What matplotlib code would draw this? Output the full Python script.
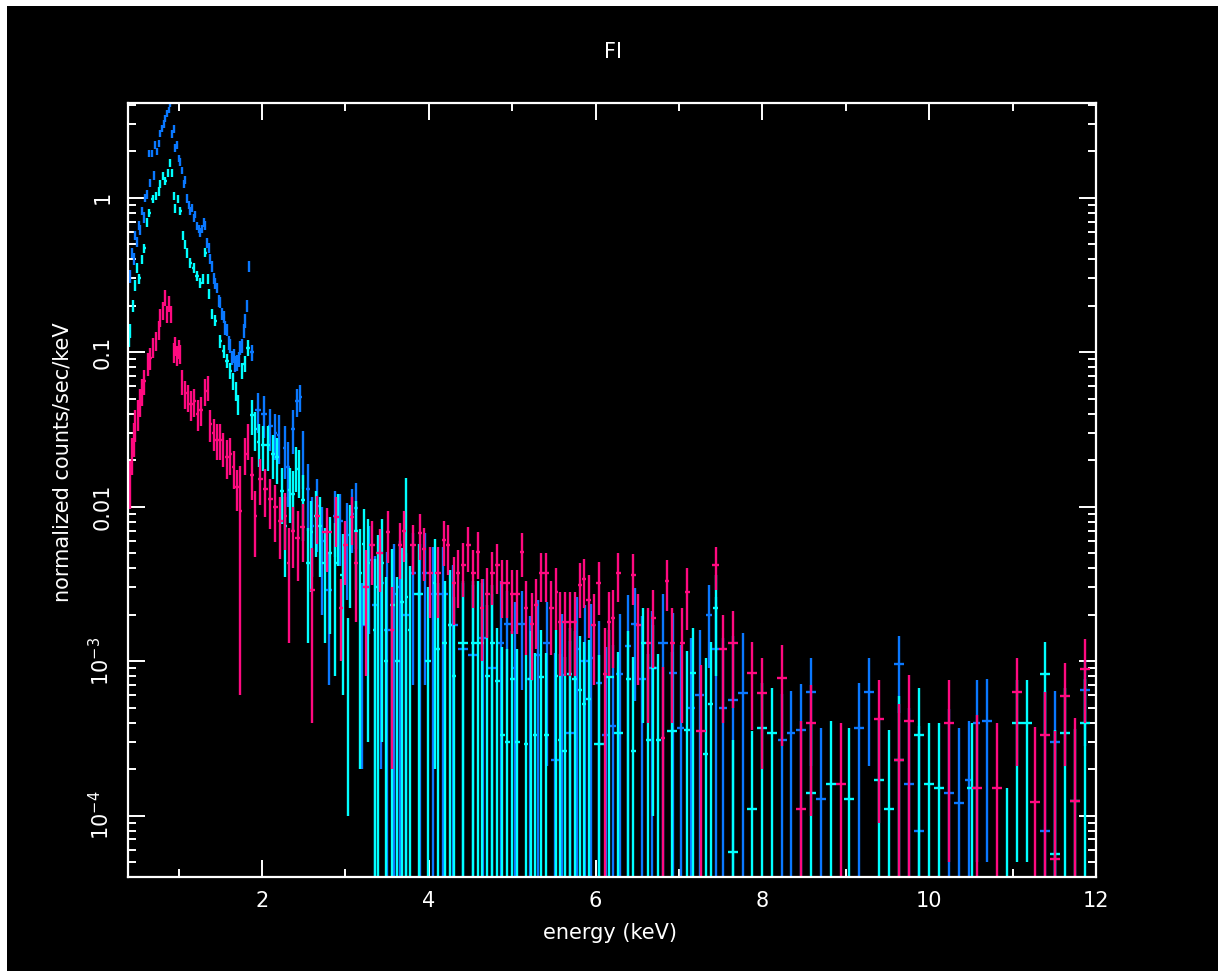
import numpy as np
import matplotlib
matplotlib.use("Agg")
import matplotlib.pyplot as plt
from matplotlib.ticker import FixedLocator, LogLocator, MultipleLocator, NullFormatter

# ---- data: energy (keV), value (counts/s/keV), 1-sigma error ----
blue_e = [0.42, 0.44, 0.46, 0.48, 0.50, 0.52, 0.54, 0.56, 0.58, 0.60, 0.62, 0.64, 0.66, 0.68, 0.70,
          0.72, 0.74, 0.76, 0.78, 0.80, 0.82, 0.84, 0.86, 0.88, 0.90, 0.92, 0.94, 0.96, 0.98, 1.00,
          1.02, 1.04, 1.06, 1.08, 1.10, 1.12, 1.14, 1.16, 1.18, 1.20, 1.22, 1.24, 1.26, 1.28, 1.30,
          1.32, 1.34, 1.36, 1.38, 1.40, 1.42, 1.44, 1.46, 1.48, 1.50, 1.52, 1.54, 1.56, 1.58, 1.60,
          1.62, 1.64, 1.66, 1.68, 1.70, 1.72, 1.74, 1.76, 1.78, 1.80, 1.82, 1.84, 1.88,
          1.95, 2.02, 2.10, 2.16, 2.20, 2.27, 2.31, 2.37, 2.42, 2.46, 2.49, 2.55, 2.60, 2.66, 2.72,
          2.80, 2.88, 2.94, 3.02, 3.08, 3.13, 3.20, 3.28, 3.35, 3.43, 3.50, 3.58, 3.65, 3.73, 3.81,
          3.89, 3.95, 4.05, 4.17, 4.29, 4.41, 4.53, 4.65, 4.76, 4.86, 4.94, 5.03, 5.12, 5.21, 5.31,
          5.42, 5.51, 5.60, 5.69, 5.78, 5.87, 5.95, 6.04, 6.12, 6.21, 6.29, 6.39, 6.47, 6.56, 6.68,
          6.81, 6.93, 7.02, 7.14, 7.25, 7.36, 7.44, 7.53, 7.65, 7.77, 8.24, 8.34, 8.46, 8.58, 8.70,
          9.16, 9.28, 9.64, 9.76, 9.88, 10.24, 10.36, 10.48, 10.57, 10.69, 11.39, 11.51, 11.87]
blue_v = [0.31, 0.44, 0.40, 0.57, 0.52, 0.66, 0.62, 0.82, 0.75, 1.00, 1.05, 1.93, 1.25, 1.93, 1.40,
          2.20, 2.00, 2.25, 2.60, 2.80, 3.00, 3.25, 3.50, 3.70, 4.05, 2.60, 2.80, 2.10, 2.20, 1.80,
          1.70, 1.50, 1.23, 1.30, 0.99, 0.90, 0.82, 0.86, 0.74, 0.78, 0.66, 0.63, 0.60, 0.63, 0.69,
          0.66, 0.51, 0.47, 0.40, 0.36, 0.30, 0.28, 0.26, 0.215, 0.21, 0.177, 0.17, 0.144, 0.14, 0.115,
          0.11, 0.092, 0.095, 0.084, 0.086, 0.090, 0.107, 0.11, 0.138, 0.16, 0.20, 0.36, 0.10,
          0.042, 0.040, 0.033, 0.030, 0.029, 0.024, 0.018, 0.032, 0.048, 0.051, 0.022, 0.013, 0.0075,
          0.0101, 0.006, 0.0029, 0.0087, 0.0081, 0.0065, 0.0090, 0.0098, 0.0017, 0.0045, 0.0023,
          0.0032, 0.0016, 0.0027, 0.0030, 0.0020, 0.0037, 0.0027, 0.0037, 0.0027, 0.0027, 0.0017,
          0.0012, 0.0011, 0.0014, 0.0009, 0.0013, 0.00175, 0.0009, 0.00175, 0.00077, 0.0011,
          0.00131, 0.00023, 0.00081, 0.00034, 0.0012, 0.0010, 0.00105, 0.00072, 0.00033, 0.00038,
          0.00083, 0.00126, 0.00175, 0.00077, 0.0009, 0.00131, 0.00084, 0.00037, 0.0005, 0.0006,
          0.0020, 0.0012, 0.0005, 0.00056, 0.00062, 0.00031, 0.00034, 0.00036, 0.00063, 0.000127,
          0.00037, 0.00063, 0.00096, 0.00016, 0.00008, 0.00014, 0.00012, 0.00017, 0.0004, 0.00041,
          0.00008, 0.0003, 0.00065]
blue_err = [0.03, 0.035, 0.035, 0.04, 0.04, 0.045, 0.05, 0.05, 0.06, 0.06, 0.065, 0.1, 0.08, 0.1, 0.09,
            0.12, 0.11, 0.12, 0.14, 0.15, 0.16, 0.17, 0.18, 0.19, 0.2, 0.15, 0.16, 0.12, 0.12, 0.1,
            0.095, 0.085, 0.075, 0.075, 0.06, 0.055, 0.05, 0.05, 0.045, 0.045, 0.04, 0.04, 0.04, 0.04,
            0.045, 0.045, 0.04, 0.035, 0.03, 0.028, 0.025, 0.022, 0.02, 0.019, 0.017, 0.016, 0.015,
            0.014, 0.013, 0.012, 0.011, 0.01, 0.01, 0.01, 0.01, 0.01, 0.011, 0.012, 0.014, 0.016,
            0.018, 0.03, 0.012,
            0.012, 0.012, 0.010, 0.010, 0.010, 0.009, 0.008, 0.010, 0.010, 0.010, 0.009, 0.006, 0.004,
            0.005, 0.004, 0.0022, 0.004, 0.004, 0.004, 0.004, 0.0045, 0.0015, 0.003, 0.0025,
            0.003, 0.0035, 0.003, 0.003, 0.003, 0.003, 0.003, 0.003, 0.0028, 0.0028, 0.0025,
            0.002, 0.002, 0.002, 0.0018, 0.002, 0.0011, 0.0015, 0.0011, 0.0012, 0.0014,
            0.0011, 0.0009, 0.0012, 0.001, 0.0014, 0.0013, 0.0013, 0.0011, 0.0009, 0.0009,
            0.0012, 0.0014, 0.0012, 0.0012, 0.0012, 0.0014, 0.0012, 0.0009, 0.0009, 0.001,
            0.0011, 0.0014, 0.0009, 0.0009, 0.0009, 0.0003, 0.0003, 0.00035, 0.00042, 0.00024,
            0.00035, 0.00042, 0.0005, 0.00034, 0.0003, 0.00035, 0.00025, 0.00024, 0.00035, 0.00036,
            0.00056, 0.00034, 0.00037]

cyan_e = [0.40, 0.42, 0.45, 0.48, 0.50, 0.53, 0.56, 0.59, 0.62, 0.65, 0.69, 0.73, 0.76, 0.78, 0.81,
          0.84, 0.87, 0.90, 0.92, 0.94, 0.96, 0.99, 1.02, 1.05, 1.08, 1.10, 1.14, 1.18, 1.22, 1.26,
          1.29, 1.32, 1.35, 1.37, 1.40, 1.44, 1.50, 1.54, 1.58, 1.62, 1.65, 1.69, 1.71, 1.76, 1.79,
          1.83, 1.88, 1.92, 1.96, 2.01, 2.07, 2.13, 2.18, 2.24, 2.28, 2.33, 2.37, 2.41, 2.44, 2.49,
          2.55, 2.59, 2.65, 2.70, 2.75, 2.81, 2.88, 2.91, 2.97, 3.03, 3.06, 3.13, 3.18, 3.22, 3.27,
          3.35, 3.39, 3.44, 3.49, 3.56, 3.62, 3.68, 3.73, 3.77, 3.88, 3.99, 4.07, 4.11, 4.19, 4.25,
          4.30, 4.41, 4.53, 4.59, 4.64, 4.70, 4.76, 4.82, 4.88, 4.94, 5.00, 5.06, 5.17, 5.22, 5.27,
          5.35, 5.41, 5.53, 5.57, 5.63, 5.69, 5.75, 5.81, 5.86, 5.92, 6.04, 6.16, 6.27, 6.39, 6.45,
          6.57, 6.63, 6.69, 6.75, 6.92, 7.10, 7.17, 7.32, 7.38, 7.44, 7.65, 7.88, 8.00, 8.12, 8.58,
          8.82, 9.04, 9.40, 9.52, 9.64, 9.88, 10.00, 10.12, 10.51, 10.93, 11.05, 11.17, 11.39, 11.51,
          11.63, 11.75, 11.87]
cyan_v = [0.12, 0.138, 0.20, 0.27, 0.35, 0.30, 0.40, 0.47, 0.69, 0.80, 0.98, 1.03, 1.10, 1.23, 1.39,
          1.29, 1.45, 1.68, 1.45, 1.03, 0.85, 0.98, 0.82, 0.57, 0.50, 0.44, 0.38, 0.35, 0.31, 0.28,
          0.30, 0.44, 0.30, 0.24, 0.177, 0.16, 0.118, 0.102, 0.088, 0.076, 0.065, 0.056, 0.046, 0.076,
          0.084, 0.107, 0.039, 0.032, 0.026, 0.025, 0.025, 0.022, 0.021, 0.0127, 0.0075, 0.0128,
          0.0121, 0.0184, 0.0174, 0.011, 0.0043, 0.0068, 0.0087, 0.0075, 0.0043, 0.0050, 0.0043,
          0.0081, 0.0036, 0.0010, 0.0062, 0.0069, 0.0037, 0.0057, 0.0043, 0.0016, 0.0030, 0.0043,
          0.0010, 0.0023, 0.0010, 0.0024, 0.0026, 0.0016, 0.0027, 0.0010, 0.0032, 0.0012, 0.0013,
          0.0017, 0.0008, 0.0013, 0.0013, 0.0013, 0.0013, 0.0008, 0.0013, 0.00074, 0.00033, 0.0003,
          0.00076, 0.0003, 0.00029, 0.00076, 0.00033, 0.00079, 0.00033, 0.0008, 0.00031, 0.00026,
          0.00083, 0.00076, 0.00065, 0.00053, 0.00057, 0.00029, 0.00079, 0.00034, 0.00077, 0.00026,
          0.0013, 0.00031, 0.0009, 0.00031, 0.00035, 0.00036, 0.00084, 0.00025, 0.00053, 0.0022,
          0.000058, 0.00011, 0.00037, 0.00034, 0.00014, 0.00016, 0.000127, 0.00017, 0.00011,
          0.00023, 0.00033, 0.00016, 0.00015, 0.00015, 0.00003, 0.0004, 0.0004, 0.00083, 0.000056,
          0.00034, 0.000125, 0.0004]
cyan_err = [0.012, 0.014, 0.018, 0.022, 0.025, 0.022, 0.028, 0.032, 0.045, 0.05, 0.06, 0.065, 0.07,
            0.075, 0.08, 0.08, 0.085, 0.1, 0.085, 0.065, 0.055, 0.06, 0.05, 0.04, 0.035, 0.032,
            0.028, 0.025, 0.023, 0.021, 0.022, 0.03, 0.022, 0.018, 0.014, 0.013, 0.011, 0.01, 0.009,
            0.009, 0.008, 0.008, 0.007, 0.009, 0.01, 0.012,
            0.01, 0.009, 0.008, 0.008, 0.008, 0.007, 0.007, 0.005, 0.004, 0.005,
            0.005, 0.006, 0.006, 0.005, 0.003, 0.004, 0.004, 0.004, 0.003, 0.0035, 0.0035,
            0.004, 0.003, 0.0009, 0.004, 0.004, 0.0035, 0.004, 0.004, 0.003, 0.0035, 0.004,
            0.0025, 0.003, 0.0025, 0.003, 0.0128, 0.0025, 0.003, 0.002, 0.003, 0.002, 0.002,
            0.0022, 0.0018, 0.002, 0.002, 0.002, 0.0019, 0.0015, 0.0018, 0.0009, 0.0009, 0.0009,
            0.0008, 0.0009, 0.0008, 0.0008, 0.0008, 0.0008, 0.0008, 0.0008, 0.0008, 0.0008,
            0.0008, 0.0008, 0.0008, 0.0008, 0.0008, 0.0008, 0.0008, 0.0008, 0.0008, 0.0008,
            0.0009, 0.0008, 0.0008, 0.0008, 0.0008, 0.0008, 0.0008, 0.0008, 0.0008, 0.0014,
            0.00025, 0.00024, 0.00035, 0.00033, 0.00026, 0.00025, 0.00024, 0.00026, 0.00025,
            0.00036, 0.00034, 0.00024, 0.00025, 0.00025, 0.00012, 0.00035, 0.00035, 0.0005, 0.0003,
            0.00033, 0.00024, 0.00036]

pink_e = [0.42, 0.44, 0.46, 0.48, 0.51, 0.54, 0.56, 0.59, 0.63, 0.66, 0.69, 0.73, 0.76, 0.78, 0.81,
          0.84, 0.86, 0.89, 0.91, 0.94, 0.96, 0.98, 1.00, 1.02, 1.04, 1.08, 1.11, 1.15, 1.19, 1.23,
          1.27, 1.32, 1.35, 1.38, 1.42, 1.46, 1.50, 1.53, 1.58, 1.62, 1.66, 1.70, 1.74, 1.80, 1.83,
          1.88, 1.92, 1.98, 2.04, 2.10, 2.16, 2.22, 2.28, 2.32, 2.37, 2.43, 2.49, 2.60, 2.66, 2.78,
          2.89, 2.95, 3.00, 3.08, 3.13, 3.25, 3.32, 3.41, 3.51, 3.56, 3.65, 3.70, 3.81, 3.89, 3.94,
          4.01, 4.11, 4.18, 4.23, 4.30, 4.35, 4.41, 4.47, 4.53, 4.59, 4.64, 4.70, 4.76, 4.82, 4.88,
          4.94, 5.00, 5.06, 5.12, 5.17, 5.24, 5.29, 5.35, 5.41, 5.47, 5.53, 5.57, 5.63, 5.69, 5.75,
          5.81, 5.86, 5.92, 5.98, 6.04, 6.11, 6.16, 6.21, 6.27, 6.45, 6.51, 6.63, 6.69, 6.81, 6.86,
          6.92, 7.04, 7.10, 7.26, 7.44, 7.53, 7.65, 7.88, 8.00, 8.24, 8.46, 8.58, 8.94, 9.40, 9.64,
          9.76, 10.24, 10.57, 10.81, 11.05, 11.27, 11.39, 11.51, 11.63, 11.75, 11.87]
pink_v = [0.0147, 0.022, 0.028, 0.034, 0.040, 0.048, 0.056, 0.065, 0.084, 0.092, 0.107, 0.118, 0.14,
          0.167, 0.186, 0.226, 0.177, 0.206, 0.177, 0.10, 0.11, 0.095, 0.105, 0.098, 0.065, 0.054,
          0.051, 0.046, 0.048, 0.040, 0.042, 0.056, 0.059, 0.034, 0.030, 0.027, 0.027, 0.024, 0.021,
          0.022, 0.018, 0.0133, 0.0094, 0.022, 0.027, 0.016, 0.0087, 0.0152, 0.013, 0.0112, 0.0099,
          0.0081, 0.0087, 0.0043, 0.0070, 0.0063, 0.0074, 0.0029, 0.0087, 0.0068, 0.0085, 0.0022,
          0.0056, 0.0086, 0.0043, 0.0030, 0.0056, 0.0050, 0.0068, 0.0016, 0.0056, 0.0069, 0.0056,
          0.0067, 0.0053, 0.0037, 0.0037, 0.0061, 0.0056, 0.0032, 0.0037, 0.0042, 0.0056, 0.0037,
          0.0051, 0.0022, 0.0027, 0.0037, 0.0042, 0.0032, 0.0032, 0.0027, 0.0027, 0.0051, 0.0022,
          0.00175, 0.0023, 0.0037, 0.0037, 0.0022, 0.0028, 0.0018, 0.0018, 0.0018, 0.0018, 0.0031,
          0.0034, 0.0025, 0.0017, 0.0032, 0.00083, 0.0018, 0.0019, 0.0037, 0.0036, 0.0017, 0.0013,
          0.0019, 0.00032, 0.0033, 0.0013, 0.0013, 0.0028, 0.00035, 0.0042, 0.0012, 0.0013, 0.00084,
          0.00062, 0.00078, 0.00011, 0.0004, 0.00016, 0.00042, 0.00023, 0.00041, 0.0004, 0.00015,
          0.00015, 0.00063, 0.000123, 0.00033, 0.000052, 0.00059, 0.000125, 0.00089]
pink_err = [0.005, 0.006, 0.007, 0.008, 0.009, 0.010, 0.011, 0.012, 0.014, 0.015, 0.016, 0.017, 0.02,
            0.022, 0.024, 0.028, 0.022, 0.025, 0.022, 0.015, 0.015, 0.014, 0.015, 0.014, 0.012, 0.011,
            0.010, 0.010, 0.010, 0.009, 0.009, 0.011, 0.011, 0.008, 0.007, 0.007, 0.007, 0.006, 0.006,
            0.006, 0.005, 0.004, 0.0088, 0.006, 0.007, 0.005, 0.004, 0.005, 0.0045, 0.004, 0.004,
            0.0035, 0.0035, 0.003, 0.003, 0.003, 0.003, 0.0025, 0.003, 0.003, 0.003, 0.0012,
            0.0025, 0.003, 0.0025, 0.0022, 0.0025, 0.0022, 0.0025, 0.0014, 0.0022, 0.0025, 0.002,
            0.0022, 0.002, 0.0018, 0.0018, 0.002, 0.002, 0.0015, 0.0015, 0.0016, 0.0018, 0.0015,
            0.0017, 0.0012, 0.0013, 0.0014, 0.0015, 0.0013, 0.0013, 0.0012, 0.0012, 0.0016, 0.0011,
            0.001, 0.0011, 0.0013, 0.0013, 0.0011, 0.0012, 0.001, 0.001, 0.001, 0.001, 0.0012,
            0.0012, 0.0011, 0.001, 0.0012, 0.0008, 0.001, 0.001, 0.0013, 0.0013, 0.001, 0.0009,
            0.001, 0.0006, 0.0012, 0.0009, 0.0009, 0.0012, 0.0006, 0.0013, 0.0008, 0.0008, 0.00048,
            0.00042, 0.0005, 0.0003, 0.0003, 0.00024, 0.00033, 0.0003, 0.0004, 0.00035, 0.0003,
            0.00025, 0.00042, 0.00025, 0.0003, 0.0003, 0.00038, 0.0003, 0.00049]

title = "FI"
xlabel = "energy (keV)"
ylabel = "normalized counts/sec/keV"
ytick_vals = [1e-4, 1e-3, 1e-2, 1e-1, 1]
ytick_labels = [r"10$^{-4}$", r"10$^{-3}$", "0.01", "0.1", "1"]
xtick_vals = [2, 4, 6, 8, 10, 12]


def draw(ax, e, v, err, color):
    e = np.array(e)
    v = np.array(v)
    err = np.array(err)
    # bin half-widths from the spacing of neighbouring channels
    gaps = np.diff(e)
    left = np.concatenate([[gaps[0]], gaps])
    right = np.concatenate([gaps, [gaps[-1]]])
    hw = np.minimum(np.minimum(left, right) / 2, 0.06)
    lo = np.where(v - err > 0, err, v - 1e-8)
    ax.errorbar(e, v, xerr=hw, yerr=[lo, err], fmt="none", ecolor=color,
                elinewidth=1.7, capsize=0)


plt.rcParams['font.family'] = ['DejaVu Sans']
fig = plt.figure(figsize=(12.18, 9.71), dpi=100, facecolor="black")
ax = fig.add_axes([128 / 1218, 1 - 877 / 971, 968 / 1218, 774 / 971], facecolor="black")

draw(ax, blue_e, blue_v, blue_err, "#0a78ff")
draw(ax, cyan_e, cyan_v, cyan_err, "#00ffff")
draw(ax, pink_e, pink_v, pink_err, "#ff0a80")

ax.set_yscale("log")
ax.set_xlim(0.393, 12.0)
ax.set_ylim(4.0e-5, 4.1)

for sp in ax.spines.values():
    sp.set_color("white")
    sp.set_linewidth(1.6)

ax.xaxis.set_major_locator(FixedLocator(xtick_vals))
ax.xaxis.set_minor_locator(MultipleLocator(1))
ax.yaxis.set_major_locator(FixedLocator(ytick_vals))
ax.yaxis.set_minor_locator(LogLocator(base=10, subs=np.arange(2, 10)))
ax.yaxis.set_minor_formatter(NullFormatter())
ax.set_yticklabels(ytick_labels, rotation=90, va="center")

ax.tick_params(which="both", direction="in", colors="white", top=True, right=True,
               labelsize=15, width=1.4)
ax.tick_params(which="major", length=12)
ax.tick_params(which="minor", length=6)
ax.tick_params(axis="x", which="major", pad=10)
ax.tick_params(axis="y", which="major", pad=11)

ax.set_xlabel(xlabel, color="white", fontsize=15)
ax.set_ylabel(ylabel, color="white", fontsize=15)
ax.xaxis.set_label_coords(0.498, -0.060)
ax.yaxis.set_label_coords(-0.057, 0.536)
fig.text(613 / 1218, 1 - 52 / 971, title, color="white", fontsize=15, ha="center", va="center")

# white strip along the top and left edge of the original screenshot
fig.patches.append(plt.Rectangle((0, 1 - 6 / 971), 1, 6 / 971, transform=fig.transFigure,
                                 facecolor="white", edgecolor="none"))
fig.patches.append(plt.Rectangle((0, 0), 7 / 1218, 1, transform=fig.transFigure,
                                 facecolor="white", edgecolor="none"))

fig.savefig("out.png", dpi=100, facecolor="black")
